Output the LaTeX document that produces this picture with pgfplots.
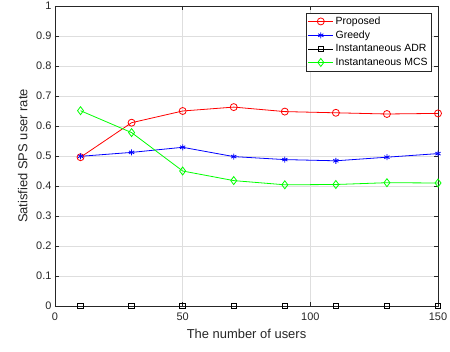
\documentclass[border=0pt]{standalone}
\usepackage{fontspec}
\setmainfont{Liberation Sans}
\usepackage{pgfplots}
\pgfplotsset{compat=1.18}
\definecolor{axgray}{rgb}{0.15,0.15,0.15}
\definecolor{gridgray}{rgb}{0.87,0.87,0.87}
\definecolor{mgreen}{rgb}{0,1,0}
\begin{document}
\begin{tikzpicture}
\begin{axis}[
  scale only axis, width=383bp, height=300bp,
  xmin=0, xmax=150, ymin=0, ymax=1,
  xtick={0,50,100,150},
  ytick={0,0.1,0.2,0.3,0.4,0.5,0.6,0.7,0.8,0.9,1},
  yticklabels={0,0.1,0.2,0.3,0.4,0.5,0.6,0.7,0.8,0.9,1},
  xticklabels={0,50,100,150},
  grid=major,
  major grid style={gridgray, line width=0.5bp},
  tick align=inside,
  major tick length=4bp,
  axis line style={axgray, line width=0.6bp},
  every tick/.style={axgray, line width=0.6bp},
  tick label style={font=\fontsize{11}{13}\selectfont, text=axgray},
  label style={font=\fontsize{13}{15}\selectfont, text=axgray},
  xlabel={The number of users},
  ylabel={Satisfied SPS user rate},
  xlabel style={at={(axis description cs:0.5,0)}, anchor=north, yshift=-20bp},
  ylabel style={at={(axis description cs:0,0.5)}, anchor=south, yshift=24bp},
  xticklabel style={yshift=-3bp},
  legend style={at={(rel axis cs:0.984,0.978)}, anchor=north east,
    font=\fontsize{10.5}{12}\selectfont, draw=axgray, line width=0.6bp,
    inner xsep=2bp, inner ysep=2bp, row sep=0.8bp, cells={anchor=west}},
  legend image code/.code={\draw[mark repeat=2,mark phase=2] plot coordinates {(0bp,0bp) (12.5bp,0bp) (25bp,0bp)};},
  legend cell align=left,
]
\addplot[red, line width=0.8bp, mark=o, mark size=3.5bp, mark options={solid}] coordinates {
 (10,0.496) (30,0.611) (50,0.650) (70,0.663) (90,0.648) (110,0.644) (130,0.640) (150,0.642)};
\addlegendentry{Proposed}
\addplot[blue, line width=0.8bp, mark=asterisk, mark size=3bp] coordinates {
 (10,0.499) (30,0.512) (50,0.529) (70,0.498) (90,0.488) (110,0.484) (130,0.496) (150,0.508)};
\addlegendentry{Greedy}
\addplot[black, line width=0.8bp, mark=square, mark size=2.8bp] coordinates {
 (10,0) (30,0) (50,0) (70,0) (90,0) (110,0) (130,0) (150,0)};
\addlegendentry{Instantaneous ADR}
\addplot[mgreen, line width=0.8bp, mark=diamond, mark size=4bp] coordinates {
 (10,0.651) (30,0.578) (50,0.450) (70,0.418) (90,0.404) (110,0.405) (130,0.411) (150,0.410)};
\addlegendentry{Instantaneous MCS}
\end{axis}
\pgfresetboundingbox
\path[use as bounding box] ([xshift=-55bp,yshift=-46bp]current axis.south west) rectangle ([xshift=12bp,yshift=6bp]current axis.north east);
\end{tikzpicture}
\end{document}
